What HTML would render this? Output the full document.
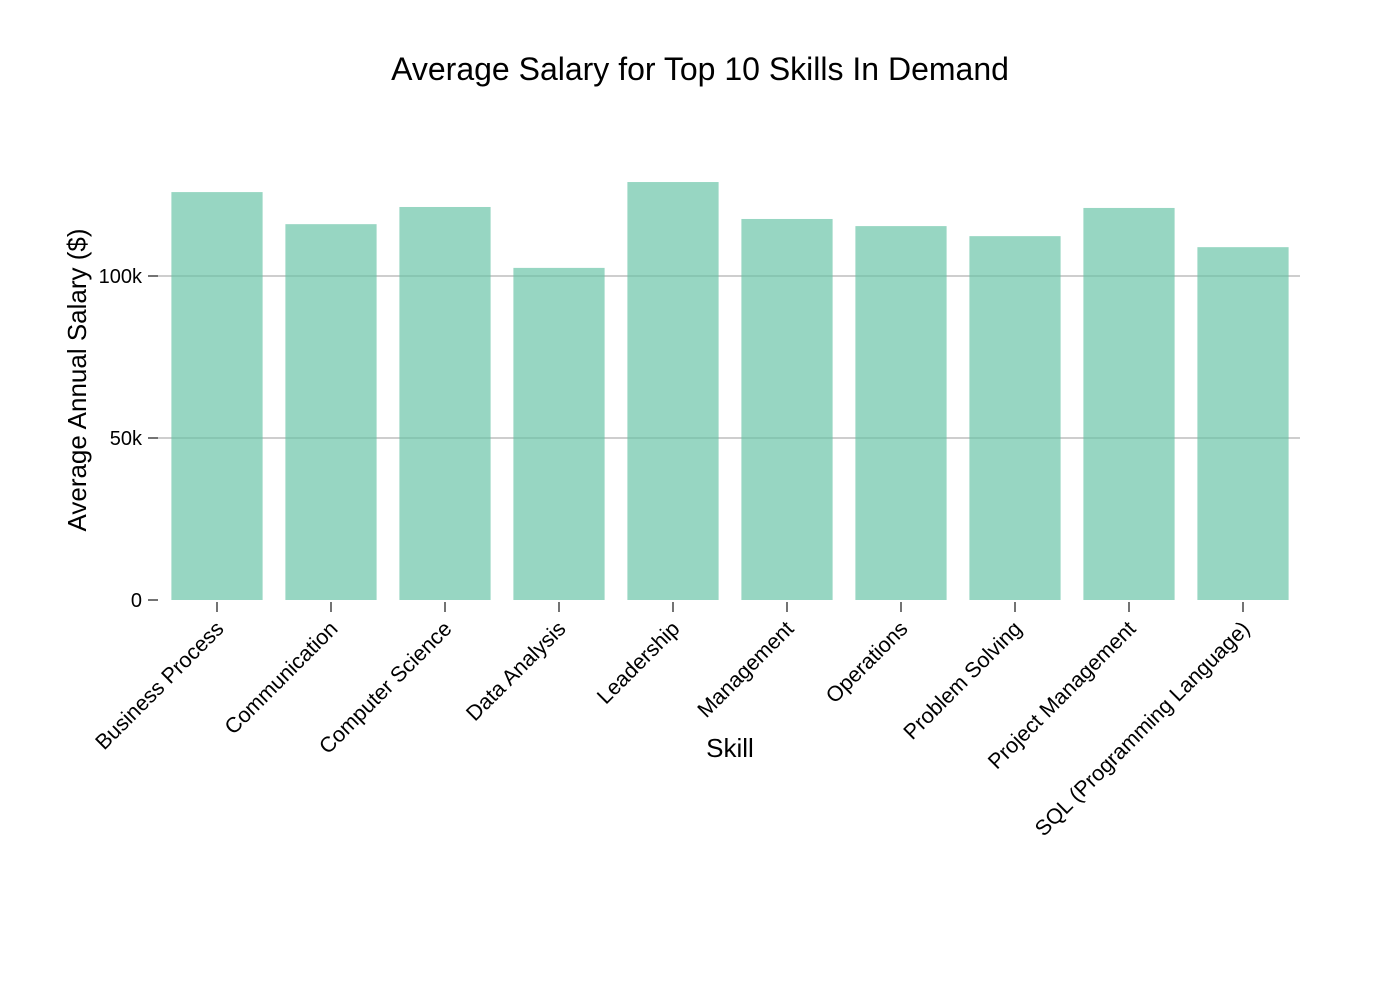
<!DOCTYPE html>
<html><head><meta charset="utf-8"><style>
body{margin:0;background:#fff;font-family:"Liberation Sans",Arial,sans-serif;}
svg text{font-family:"Liberation Sans",Arial,sans-serif;fill:#000;}
</style></head><body>
<svg id="chart" width="1400" height="1000" xmlns="http://www.w3.org/2000/svg">
<text x="700" y="80" font-size="32" text-anchor="middle">Average Salary for Top 10 Skills In Demand</text>
<text transform="translate(86,380) rotate(-90)" font-size="26" text-anchor="middle">Average Annual Salary ($)</text>
<text x="730" y="757" font-size="26" text-anchor="middle">Skill</text>
<g id="grid"></g><g id="bars"></g><g id="axes"></g>
</svg>
<script>
const categories=["Business Process","Communication","Computer Science","Data Analysis","Leadership","Management","Operations","Problem Solving","Project Management","SQL (Programming Language)"];
const salaries=[125900,116000,121300,102500,129000,117600,115400,112300,121000,108900];
const yTicks=[0,50000,100000];
const yTickLabels=["0","50k","100k"];
const NS="http://www.w3.org/2000/svg";
const x0=160,x1=1300,y0=600,pxPerUnit=324/100000;
const band=(x1-x0)/categories.length,barW=band*0.8;
function y(v){return y0-v*pxPerUnit;}
function xc(i){return x0+band*(i+0.5);}
function mk(t,a,p){const e=document.createElementNS(NS,t);for(const k in a)e.setAttribute(k,a[k]);p.appendChild(e);return e;}
const grid=document.getElementById('grid'),bars=document.getElementById('bars'),axes=document.getElementById('axes');
yTicks.forEach((v,i)=>{
  if(v>0){const g=mk('line',{x1:158,x2:1300,y1:y(v),y2:y(v),stroke:'#b0b0b0','stroke-width':1.3},grid);
  
  }
  const t=mk('line',{x1:148,x2:158,y1:y(v),y2:y(v),stroke:'#444','stroke-width':1.5},axes);
  
  
  const l=mk('text',{x:142,y:y(v)+7,'font-size':20,'text-anchor':'end'},axes);
  l.textContent=yTickLabels[i];
  
  
});
categories.forEach((c,i)=>{
  const r=mk('rect',{x:xc(i)-barW/2,y:y(salaries[i]),width:barW,height:y0-y(salaries[i]),fill:'#66c2a5','fill-opacity':0.68},bars);
  
  
  const t=mk('line',{x1:xc(i),x2:xc(i),y1:602,y2:612,stroke:'#444','stroke-width':1.5},axes);
  
  
  const l=mk('text',{transform:`translate(${xc(i)+8},${630}) rotate(-45)`,'font-size':21.5,'text-anchor':'end'},axes);
  l.textContent=c;
  
  
});
</script>
</body></html>
